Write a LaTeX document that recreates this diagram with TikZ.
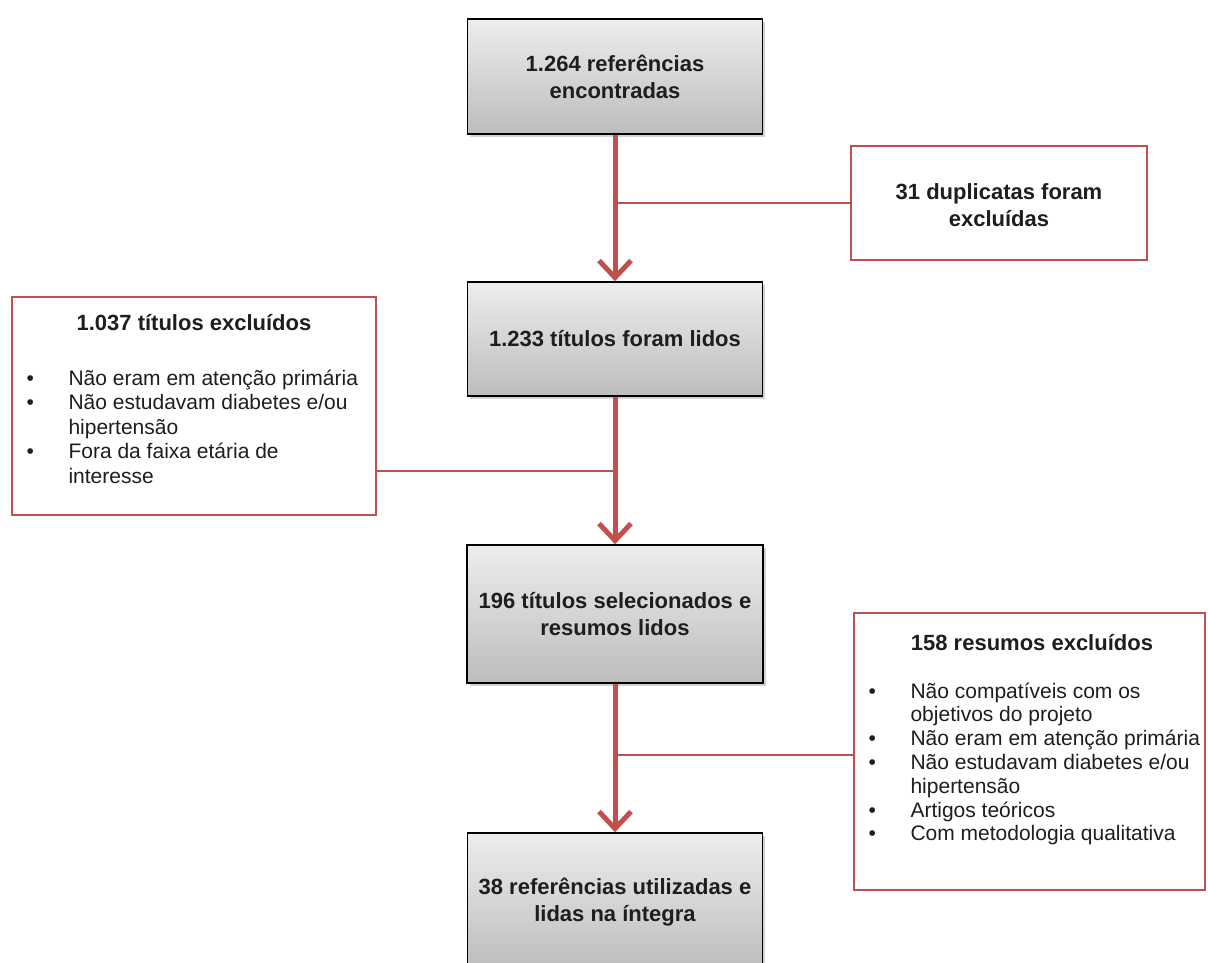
\documentclass[tikz,border=0pt]{standalone}
\usepackage{fontspec}
\setmainfont{Liberation Sans}
\usetikzlibrary{arrows.meta,shadows}
\definecolor{ored}{HTML}{C0504D}
\definecolor{txt}{HTML}{1E1E1E}
\begin{document}
\begin{tikzpicture}[x=1pt,y=-1pt,
  graybox/.style={draw=black, line width=1.6pt, top color=white!93!black, bottom color=white!74!black,
    drop shadow={shadow xshift=2.5pt,shadow yshift=-2.5pt,opacity=0.35},
    font=\bfseries\fontsize{22}{27}\selectfont, text=txt, align=center, inner sep=0pt},
  redbox/.style={draw=ored, line width=2.6pt, fill=white, inner sep=0pt},
  redtext/.style={font=\bfseries\fontsize{22}{27}\selectfont, text=txt, align=center, inner sep=0pt},
  listtext/.style={font=\fontsize{21}{24.6}\selectfont, text=txt, inner sep=0pt, anchor=base west},
  flow/.style={draw=ored, line width=5pt, -{Straight Barb[length=17pt,width=32pt]}},
  link/.style={draw=ored, line width=2pt},
]
\clip (0,0) rectangle (1208,962);
\fill[white] (0,0) rectangle (1208,962);

% main gray boxes
\node[graybox, minimum width=295pt, minimum height=115pt] (b1) at (615,76.5) {1.264 referências\\encontradas};
\node[graybox, minimum width=295pt, minimum height=114pt] (b2) at (615,339) {1.233 títulos foram lidos};
\node[graybox, minimum width=296pt, minimum height=138pt] (b3) at (615,614) {196 títulos selecionados e\\resumos lidos};
\node[graybox, minimum width=295pt, minimum height=138pt] (b4) at (615,902) {38 referências utilizadas e\\lidas na íntegra};

% red boxes
\node[redbox, minimum width=296pt, minimum height=114pt] (r1) at (999,203) {};
\node[redtext] (r1t) at (999,205) {31 duplicatas foram\\excluídas};

\node[redbox, minimum width=364pt, minimum height=218pt] (l1) at (194,406) {};
\node[redtext, anchor=base] (l1t) at (194,330) {1.037 títulos excluídos};
\node[listtext] (l1l) at (26.5,385) {\begin{tabular}[t]{@{}l@{\hspace{34.5pt}}l@{}}
• & Não eram em atenção primária\\
• & Não estudavam diabetes e/ou\\
  & hipertensão\\
• & Fora da faixa etária de\\
  & interesse
\end{tabular}};

\node[redbox, minimum width=351pt, minimum height=277pt] (r2) at (1029.5,751.5) {};
\node[redtext, anchor=base] (r2t) at (1032,650) {158 resumos excluídos};
\node[listtext, font=\fontsize{21}{23.8}\selectfont] (r2l) at (868.5,698) {\begin{tabular}[t]{@{}l@{\hspace{34.5pt}}l@{}}
• & Não compatíveis com os\\
  & objetivos do projeto\\
• & Não eram em atenção primária\\
• & Não estudavam diabetes e/ou\\
  & hipertensão\\
• & Artigos teóricos\\
• & Com metodologia qualitativa
\end{tabular}};

% junction points
\coordinate (j1) at (615,471);
\coordinate (j2) at (615,755);

% connectors
\draw[link] (r1.west) -- (r1.west -| b1.south);
\draw[link] (j1) -- (j1 -| l1.east);
\draw[link] (j2) -- (j2 -| r2.west);

% flow arrows
\draw[flow] (b1.south) -- (b2.north);
\draw[flow] (b2.south) -- (b3.north);
\draw[flow] (b3.south) -- (b4.north);
\end{tikzpicture}
\end{document}
